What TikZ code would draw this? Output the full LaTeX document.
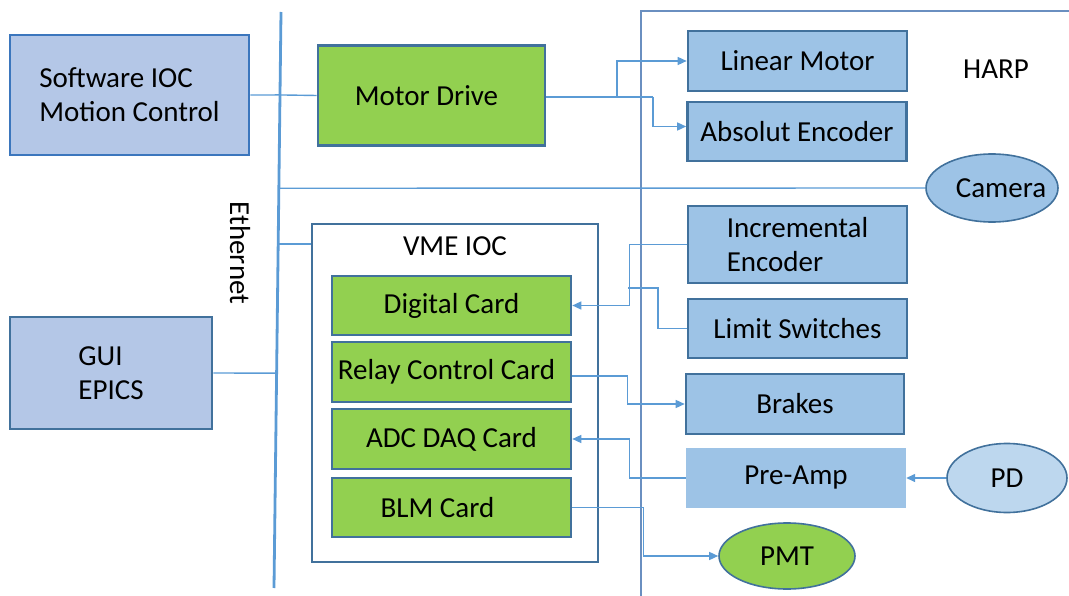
\documentclass[tikz,border=0pt]{standalone}
\usepackage{fontspec}
\setmainfont{Carlito}
\usetikzlibrary{arrows.meta,calc,shapes.geometric}
\definecolor{bord}{HTML}{41719C}
\definecolor{swbord}{HTML}{3B76BD}
\definecolor{lblue}{HTML}{9DC3E6}
\definecolor{lav}{HTML}{B4C7E7}
\definecolor{pale}{HTML}{BDD7EE}
\definecolor{grn}{HTML}{92D050}
\definecolor{wire}{HTML}{5B9BD5}
\definecolor{frm}{HTML}{6A8FC0}
\begin{document}
\begin{tikzpicture}[x=1pt,y=-1pt,
  every node/.style={font=\fontsize{29}{34}\selectfont, inner sep=0pt, text=black},
  bx/.style={draw=bord, line width=2.6pt, rectangle, align=left},
  swbox/.style={bx, draw=swbord, fill=lav},
  hwbox/.style={bx, fill=lblue},
  cardbox/.style={bx, fill=grn},
  oval/.style={ellipse, draw=bord, line width=1.6pt},
  wireline/.style={draw=wire, line width=1.4pt},
  arr/.style={wireline, -{Triangle[length=9pt,width=8pt]}},
  ethline/.style={draw=wire, line width=2.8pt},
  frameline/.style={draw=frm, line width=1.6pt}]
\useasboundingbox (0,0) rectangle (1069,596);

% Ethernet bus
\coordinate (ethT) at (281,12);
\coordinate (ethB) at (274,588);
\draw[ethline] (ethT) -- (ethB);
\coordinate (e1) at ($(ethT)!0.144!(ethB)$);
\coordinate (e2) at ($(ethT)!0.306!(ethB)$);
\coordinate (e3) at ($(ethT)!0.403!(ethB)$);
\coordinate (e4) at ($(ethT)!0.627!(ethB)$);
\node[rotate=-90] (ethlbl) at (240,253) {Ethernet};

% HARP frame
\coordinate (hb) at (641,596);
\coordinate (hc) at (641,11);
\coordinate (hr) at (1069,11);
\draw[frameline] (hb) -- (hc) -- (hr);
\node (harp) at (996,69) {HARP};

% left side
\node[swbox, minimum width=239pt, minimum height=120pt] (sw) at (129.5,95) {Software IOC\\Motion Control};
\node[swbox, draw=bord, minimum width=202pt, minimum height=112pt] (gui) at (111,373) {GUI\\EPICS};
\node[cardbox, minimum width=227pt, minimum height=100pt] (md) at (431.5,95.5) {\kern-10pt Motor Drive};

% VME IOC
\node[draw=bord, line width=2.6pt, fill=white, minimum width=286pt, minimum height=338pt] (vme) at (455,393) {};
\node (vmelbl) at (455,246) {VME IOC};
\node[cardbox, minimum width=239pt, minimum height=59pt] (dc) at (451.5,305.5) {Digital Card};
\node[cardbox, minimum width=239pt, minimum height=60pt] (rc) at (451.5,372) {\kern-10pt Relay Control Card};
\node[cardbox, minimum width=239pt, minimum height=60pt] (adc) at (451.5,439) {ADC DAQ Card};
\node[cardbox, minimum width=239pt, minimum height=59pt] (blm) at (451.5,507.5) {\kern-28pt BLM Card};

% HARP devices
\node[hwbox, minimum width=219pt, minimum height=60pt] (lm) at (797.5,61) {Linear Motor};
\node[hwbox, minimum width=219pt, minimum height=59pt] (ae) at (797,131.5) {Absolut Encoder};
\node[hwbox, minimum width=219pt, minimum height=77pt] (ie) at (797.5,244.5) {Incremental\\Encoder};
\node[hwbox, minimum width=219pt, minimum height=59pt] (ls) at (797.5,328.5) {Limit Switches};
\node[hwbox, minimum width=218pt, minimum height=60pt] (bk) at (795,404) {Brakes};
\node[rectangle, fill=lblue, minimum width=220pt, minimum height=60pt] (pa) at (796,478) {Pre-Amp};
\node[oval, fill=lblue, minimum width=132pt, minimum height=68pt,
      label={[xshift=9pt]center:Camera}] (cam) at (992,188) {};
\node[oval, fill=pale, minimum width=120pt, minimum height=69pt] (pd) at (1007,478) {PD};
\node[oval, fill=grn, minimum width=136pt, minimum height=66pt] (pmt) at (787,556) {PMT};

% connectors
\draw[wireline] (sw.east) -- (e1) -- (md.west);
\draw[wireline] (gui.east) -- (e4);
\draw[wireline] (e3) -- (e3 -| vme.west);
\draw[wireline] (e2) -- (cam.west);

\coordinate (j1) at (617,97);
\coordinate (j1b) at (653,97);
\draw[wireline] (md.east |- j1) -- (j1);
\draw[arr] (j1) |- (lm.west);
\draw[wireline] (j1) -- (j1b);
\draw[arr] (j1b) |- ([yshift=5pt]ae.west);

\draw[arr] (ie.west) -| ($(dc.east)+(57,0)$) -- (dc.east);
\coordinate (jls) at (658,288);
\draw[wireline] (ls.west) -| (jls) -- ($(jls)+(-30,0)$);
\draw[arr] ([yshift=-4pt]rc.east) -| ($(bk.west)+(-57,0)$) -- (bk.west);
\draw[arr] (pa.west) -| ($(adc.east)+(57,0)$) -- (adc.east);
\draw[arr] (pd.west) -- (pa.east);
\draw[arr] (blm.east) -| ($(pmt.west)+(-75,0)$) -- (pmt.west);
\end{tikzpicture}
\end{document}
